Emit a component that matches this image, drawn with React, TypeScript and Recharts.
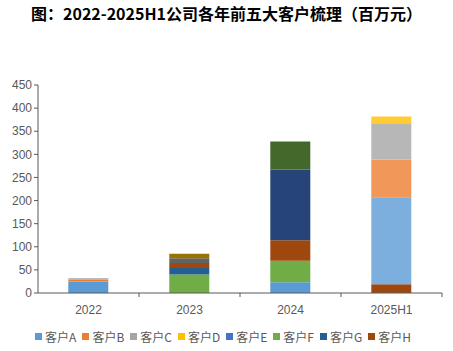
import React from 'react'
import { BarChart, Bar, XAxis, YAxis, Legend } from 'recharts'

const years = ['2022', '2023', '2024', '2025H1']

// 图例中的 8 个客户
const custA = [25, 0, 23, 0]
const custB = [4, 0, 0, 0]
const custC = [3, 0, 0, 0]
const custD = [0, 0, 0, 0]
const custE = [0, 0, 0, 0]
const custF = [0, 40, 47, 0]
const custG = [0, 14, 0, 0]
const custH = [0, 11, 44, 19]
// 图例未显示的其他客户
const custI = [0, 10, 0, 0]
const custJ = [0, 10, 0, 0]
const custK = [0, 0, 153, 0]
const custL = [0, 0, 61, 0]
const custM = [0, 0, 0, 188]
const custN = [0, 0, 0, 82]
const custO = [0, 0, 0, 78]
const custP = [0, 0, 0, 15]

const yTicks = [0, 50, 100, 150, 200, 250, 300, 350, 400, 450]

const series = [
  { key: 'A', name: '客户A', values: custA, color: '#5B9BD5', legend: true },
  { key: 'B', name: '客户B', values: custB, color: '#ED7D31', legend: true },
  { key: 'C', name: '客户C', values: custC, color: '#A5A5A5', legend: true },
  { key: 'D', name: '客户D', values: custD, color: '#FFC000', legend: true },
  { key: 'E', name: '客户E', values: custE, color: '#4472C4', legend: true },
  { key: 'F', name: '客户F', values: custF, color: '#70AD47', legend: true },
  { key: 'G', name: '客户G', values: custG, color: '#255E91', legend: true },
  { key: 'H', name: '客户H', values: custH, color: '#9E480E', legend: true },
  { key: 'I', name: '客户I', values: custI, color: '#636363', legend: false },
  { key: 'J', name: '客户J', values: custJ, color: '#997300', legend: false },
  { key: 'K', name: '客户K', values: custK, color: '#264478', legend: false },
  { key: 'L', name: '客户L', values: custL, color: '#43682B', legend: false },
  { key: 'M', name: '客户M', values: custM, color: '#7CAFDD', legend: false },
  { key: 'N', name: '客户N', values: custN, color: '#F1975A', legend: false },
  { key: 'O', name: '客户O', values: custO, color: '#B7B7B7', legend: false },
  { key: 'P', name: '客户P', values: custP, color: '#FFCD33', legend: false },
]

const data = years.map((y, i) => {
  const row: Record<string, any> = { year: y }
  series.forEach(s => {
    row[s.key] = s.values[i]
  })
  return row
})

const W = 453
const H = 351
const LEFT = 38
const RIGHT = 11
const BAND = (W - LEFT - RIGHT) / years.length
const FONT = '"Liberation Sans", Arial, sans-serif'

function XTick(props: any) {
  const { x, y, payload } = props
  return (
    <g>
      <line x1={x + BAND / 2} y1={y - 8} x2={x + BAND / 2} y2={y - 4} stroke="#595959" />
      <text x={x} y={y + 13} textAnchor="middle" fill="#595959" fontSize={12} fontFamily={FONT}>
        {payload.value}
      </text>
    </g>
  )
}

function LegendContent() {
  return (
    <div style={{ display: 'flex', justifyContent: 'center', fontFamily: FONT, fontSize: 12, color: '#595959', paddingLeft: 10 }}>
      {series
        .filter(s => s.legend)
        .map(s => (
          <span key={s.key} style={{ display: 'inline-flex', alignItems: 'center', marginRight: 6 }}>
            <span style={{ width: 7, height: 7, background: s.color, marginRight: 3, display: 'inline-block' }} />
            <span style={{ fontFamily: '"Noto Sans CJK SC", ' + FONT }}>{s.name}</span>
          </span>
        ))}
    </div>
  )
}

export default function App() {
  return (
    <div style={{ position: 'absolute', left: 0, top: 0, width: W, height: H, background: '#fff' }}>
      <div
        style={{
          position: 'absolute',
          top: 1,
          left: 0,
          width: W,
          textAlign: 'center',
          fontFamily: '"Noto Sans CJK SC", sans-serif',
          fontWeight: 700,
          fontSize: 16,
          color: '#000',
        }}
      >
        图：2022-2025H1公司各年前五大客户梳理（百万元）
      </div>
      <BarChart
        width={W}
        height={H}
        data={data}
        barCategoryGap="30%"
        margin={{ top: 85, right: RIGHT, left: 0, bottom: 6 }}
      >
        <XAxis
          dataKey="year"
          tick={<XTick />}
          tickLine={false}
          axisLine={{ stroke: '#595959' }}
          height={35}
          interval={0}
        />
        <YAxis
          domain={[0, 450]}
          ticks={yTicks}
          width={LEFT}
          axisLine={{ stroke: '#595959' }}
          tickLine={{ stroke: '#595959' }}
          tickSize={4}
          tick={{ fontSize: 12, fill: '#595959', fontFamily: FONT }}
        />
        <Legend verticalAlign="bottom" content={<LegendContent />} />
        {series.map(s => (
          <Bar
            key={s.key}
            dataKey={s.key}
            name={s.name}
            stackId="a"
            fill={s.color}
            isAnimationActive={false}
          />
        ))}
      </BarChart>
    </div>
  )
}
